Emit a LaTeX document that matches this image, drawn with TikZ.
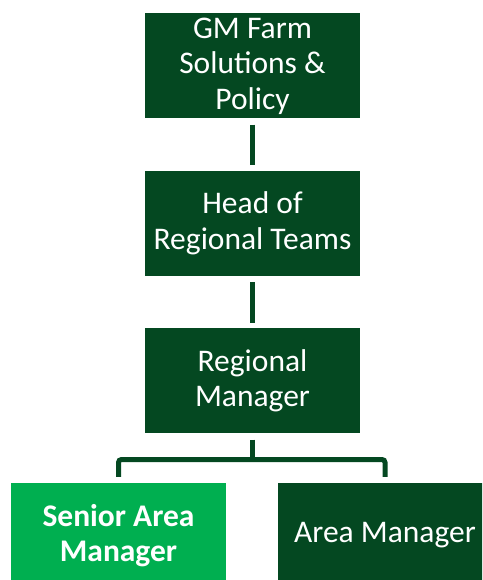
\documentclass[tikz,border=0pt]{standalone}
\usepackage{fontspec}
\setmainfont{Carlito}
\usetikzlibrary{positioning}
\definecolor{farmdark}{RGB}{4,72,33}
\definecolor{farmlight}{RGB}{0,175,80}
\tikzset{
  role/.style={fill=farmdark, text=white, minimum width=215pt, minimum height=105pt,
    inner sep=0pt, align=center, font=\fontsize{31.5}{35.5}\selectfont},
  link/.style={draw=farmdark, line width=5pt},
}
\begin{document}
\begin{tikzpicture}[x=1pt, y=-1pt, node distance=52pt]
\useasboundingbox (0,0) rectangle (482,580);
\clip (0,0) rectangle (482,580);
  \node[role] (gm) at (252.5,66) {GM Farm\\Solutions \&\\Policy};
  \node[role, below=of gm] (head) {Head of\\Regional Teams};
  \node[role, below=of head] (reg) {Regional\\Manager};
  \node[role, fill=farmlight, font=\fontsize{31.5}{35.5}\selectfont\bfseries] (sam) at (118.5,535.5) {Senior Area\\Manager};
  \node[role] (am) at (385,535.5) {Area Manager};
  % vertical links
  \draw[link] ([yshift=-6pt]gm.south) -- ([yshift=6pt]head.north);
  \draw[link] ([yshift=-6pt]head.south) -- ([yshift=5pt]reg.north);
  % fork to the two area roles
  \coordinate (fork) at ([yshift=-26pt]reg.south);
  \draw[link] ([yshift=-6pt]reg.south) -- (fork);
  \draw[link, rounded corners=3pt] ([yshift=6pt]sam.north) |- (fork) -| ([yshift=6pt]am.north);
\end{tikzpicture}
\end{document}
